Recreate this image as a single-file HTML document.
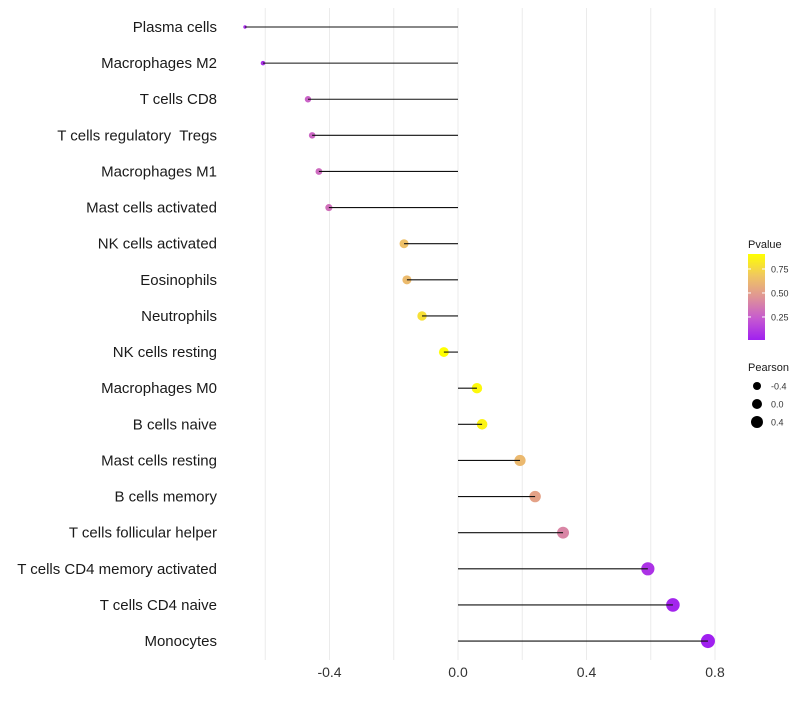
<!DOCTYPE html>
<html><head><meta charset="utf-8"><style>
body{margin:0;background:#fff;}
svg text{font-family:"Liberation Sans",sans-serif;white-space:pre;}
</style></head><body>
<svg id="chart" width="800" height="700"></svg>
<script>
const categories=["Plasma cells","Macrophages M2","T cells CD8","T cells regulatory  Tregs","Macrophages M1","Mast cells activated","NK cells activated","Eosinophils","Neutrophils","NK cells resting","Macrophages M0","B cells naive","Mast cells resting","B cells memory","T cells follicular helper","T cells CD4 memory activated","T cells CD4 naive","Monocytes"];
const pearson=[-0.663,-0.607,-0.467,-0.454,-0.433,-0.402,-0.168,-0.159,-0.112,-0.044,0.059,0.075,0.193,0.240,0.327,0.591,0.669,0.778];
const pvalue=[0.05,0.07,0.27,0.28,0.30,0.32,0.65,0.63,0.78,0.906,0.88,0.86,0.62,0.52,0.40,0.08,0.03,0.01];
const xTicks=[-0.4,0.0,0.4,0.8];
const xTickLabels=["-0.4","0.0","0.4","0.8"];
const xMinor=[-0.6,-0.2,0.2,0.6];
const pTicks=[0.25,0.50,0.75];
const sizeTicks=[-0.4,0.0,0.4];

const NS="http://www.w3.org/2000/svg";
const svg=document.getElementById('chart');
function mk(t,a,p){const e=document.createElementNS(NS,t);for(const k in a)e.setAttribute(k,a[k]);(p||svg).appendChild(e);return e;}
const X=v=>458+v*321.25;
const Y=i=>27+i*36.12;
const pMin=Math.min(...pvalue),pMax=Math.max(...pvalue);
const sMin=Math.min(...pearson),sMax=Math.max(...pearson);
const stops=[[0,[160,32,240]],[0.25,[198,90,208]],[0.5,[223,148,150]],[0.75,[240,199,96]],[1,[255,255,0]]];
function col(p){let t=(p-pMin)/(pMax-pMin);t=Math.max(0,Math.min(1,t));
 for(let i=0;i<stops.length-1;i++){const a=stops[i],b=stops[i+1];if(t<=b[0]){const f=(t-a[0])/(b[0]-a[0]);return 'rgb('+a[1].map((c,j)=>Math.round(c+(b[1][j]-c)*f)).join(',')+')';}}
 return 'rgb(255,255,0)';}
const R=v=>0.7+Math.sqrt(1+Math.max(0,(v-sMin)/(sMax-sMin))*39);

// grid
const grid=mk('g',{});


xTicks.concat(xMinor).forEach(v=>{const l=mk('line',{x1:X(v),x2:X(v),y1:8,y2:660,stroke:'#ebebeb','stroke-width':1},grid);

});

// marks
categories.forEach((c,i)=>{
 const y=Y(i);
 const t=mk('text',{x:217,y:y+5,'text-anchor':'end','font-size':15,fill:'#1a1a1a'});
 t.textContent=c;
 
 
 const d=mk('circle',{cx:X(pearson[i]),cy:y,r:R(pearson[i]),fill:col(pvalue[i])});
 
 
 const s=mk('line',{x1:X(0),x2:X(pearson[i]),y1:y,y2:y,stroke:'#111','stroke-width':1.1});
 
 
});
xTicks.forEach((v,i)=>{const t=mk('text',{x:X(v),y:677,'text-anchor':'middle','font-size':14,fill:'#333'});
t.textContent=xTickLabels[i];

});

// legend pvalue
const lg=mk('g',{});


const lt=mk('text',{x:748,y:248,'font-size':11,fill:'#1a1a1a'},lg);lt.textContent='Pvalue';
const defs=mk('defs',{});const gr=mk('linearGradient',{id:'pg',x1:0,y1:1,x2:0,y2:0},defs);
stops.forEach(s=>mk('stop',{offset:s[0],'stop-color':'rgb('+s[1].join(',')+')'},gr));
mk('rect',{x:748,y:254,width:17,height:86,fill:'url(#pg)'},lg);
const pY=p=>340-(p-pMin)/(pMax-pMin)*86;
pTicks.forEach(p=>{mk('line',{x1:748,x2:751,y1:pY(p),y2:pY(p),stroke:'#fff'},lg);mk('line',{x1:762,x2:765,y1:pY(p),y2:pY(p),stroke:'#fff'},lg);
const t=mk('text',{x:771,y:pY(p)+3.5,'font-size':9,fill:'#333'},lg);t.textContent=p.toFixed(2);});
// legend pearson
const sg=mk('g',{});


const st=mk('text',{x:748,y:371,'font-size':11,fill:'#1a1a1a'},sg);st.textContent='Pearson';
sizeTicks.forEach((v,i)=>{const y=386+i*18;mk('circle',{cx:757,cy:y,r:[4,5,6][i],fill:'#000'},sg);
const t=mk('text',{x:771,y:y+3.5,'font-size':9,fill:'#333'},sg);t.textContent=v.toFixed(1);});
</script>
</body></html>
